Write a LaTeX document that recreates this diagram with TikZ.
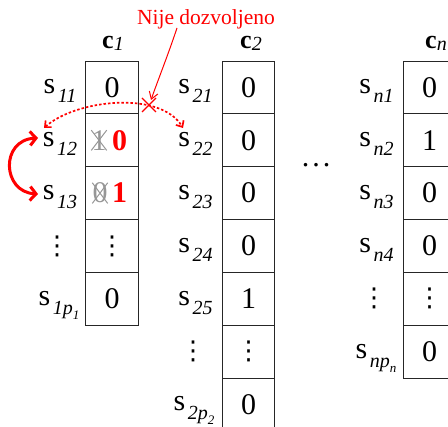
\documentclass[tikz,border=0pt]{standalone}
\usepackage{fontspec}
\setmainfont{Liberation Serif}
\newfontfamily\dvfont{DejaVu Sans}
\usetikzlibrary{arrows.meta,calc}
\newcommand\slab[1]{s\hspace{2.5pt}\raisebox{-9pt}{\fontsize{20}{20}\selectfont\itshape #1}}
\newcommand\psub[1]{\raisebox{-5pt}{\fontsize{13}{13}\selectfont #1}}
\newcommand\chead[1]{{\bfseries c}\raisebox{-2pt}{\fontsize{20}{20}\selectfont\itshape #1}}
\newcommand\vdts{{\dvfont\fontsize{26}{26}\selectfont ⋮}}
\definecolor{oldgray}{RGB}{150,150,150}
\begin{document}
\begin{tikzpicture}[x=1pt,y=-1pt,
  cell/.style={draw=black!85,line width=0.8pt,minimum width=52.5pt,minimum height=52.85pt,inner sep=0pt,font=\fontsize{30}{30}\selectfont},
  lab/.style={anchor=base,inner sep=0pt,font=\fontsize{30}{30}\selectfont},
  dts/.style={inner sep=0pt,font=\fontsize{30}{30}\selectfont},
  head/.style={anchor=base,inner sep=0pt,font=\fontsize{26}{26}\selectfont},
  oldval/.style={inner sep=0pt,text=oldgray,font=\fontsize{30}{30}\selectfont},
  newval/.style={inner sep=0pt,text=red,font=\fontsize{30}{30}\selectfont\bfseries},
  strike/.style={draw=oldgray,line width=1pt},
  note/.style={anchor=base,inner sep=0pt,text=red,font=\fontsize{21.5}{21.5}\selectfont},
  redline/.style={draw=red,line width=1pt},
  dotarrow/.style={draw=red,line width=1.7pt,dash pattern=on 2.5pt off 2pt,{Straight Barb[length=5pt,width=9pt]}-{Straight Barb[length=5pt,width=9pt]}},
  swaparrow/.style={draw=red,line width=3pt,{Straight Barb[length=6pt,width=14pt]}-{Straight Barb[length=6pt,width=14pt]}}
]
\clip (0,0) rectangle (448,427);
% headers
\node[head] (h1) at (113,49) {\chead{1}};
\node[head] (h2) at (251,49) {\chead{2}};
\node[head] (hn) at (436,49) {\chead{n}};
% column 1
\node[cell] (a1) at (112,87.4) {0};
\node[cell] (a2) at (112,140.3) {};
\node[cell] (a3) at (112,193.1) {};
\node[cell] (a4) at (112,246) {\vdts};
\node[cell] (a5) at (112,298.8) {0};
\node[lab] (l11) at (60,93.9) {\slab{11}};
\node[lab] (l12) at (60,146.8) {\slab{12}};
\node[lab] (l13) at (60,199.6) {\slab{13}};
\node[dts] (l14) at (57,246) {\vdts};
\node[lab] (l15) at (59,305.3) {\slab{1p\psub{1}}};
% changed values
\node[oldval] (o2) at (99,140.3) {1};
\draw[strike] (o2.north west) -- (o2.south east) (o2.north east) -- (o2.south west);
\node[newval] (n2) at (119.5,140.3) {0};
\node[oldval] (o3) at (100,193.1) {0};
\draw[strike] (o3.north west) -- (o3.south east) (o3.north east) -- (o3.south west);
\node[newval] (n3) at (119.5,193.1) {1};
% column 2
\node[cell] (b1) at (248.5,87.4) {0};
\node[cell] (b2) at (248.5,140.3) {0};
\node[cell] (b3) at (248.5,193.1) {0};
\node[cell] (b4) at (248.5,246) {0};
\node[cell] (b5) at (248.5,298.8) {1};
\node[cell] (b6) at (248.5,351.7) {\vdts};
\node[cell] (b7) at (248.5,404.5) {0};
\node[lab] (l21) at (195.5,93.9) {\slab{21}};
\node[lab] (l22) at (195.5,146.8) {\slab{22}};
\node[lab] (l23) at (195.5,199.6) {\slab{23}};
\node[lab] (l24) at (195.5,252.5) {\slab{24}};
\node[lab] (l25) at (195.5,305.3) {\slab{25}};
\node[dts] (l26) at (193,351.7) {\vdts};
\node[lab] (l27) at (194,411) {\slab{2p\psub{2}}};
% dots between columns
\node[dts] (hd) at (316,165) {\hbox{.\kern3pt.\kern3pt.}};
% column n
\node[cell] (c1) at (429.5,87.4) {0};
\node[cell] (c2) at (429.5,140.3) {1};
\node[cell] (c3) at (429.5,193.1) {0};
\node[cell] (c4) at (429.5,246) {0};
\node[cell] (c5) at (429.5,298.8) {\vdts};
\node[cell] (c6) at (429.5,351.7) {0};
\node[lab] (ln1) at (376.5,93.9) {\slab{n1}};
\node[lab] (ln2) at (376.5,146.8) {\slab{n2}};
\node[lab] (ln3) at (376.5,199.6) {\slab{n3}};
\node[lab] (ln4) at (376.5,252.5) {\slab{n4}};
\node[dts] (ln5) at (374,298.8) {\vdts};
\node[lab] (ln6) at (376,358.2) {\slab{np\psub{n}}};
% note
\node[note] (note) at (206,25) {Nije dozvoljeno};
\coordinate (xm) at (149,105);
\draw[redline,-{Straight Barb[length=7pt,width=9pt]}] (177,28) .. controls (168,55) and (158,80) .. (151,100);
\draw[draw=red,line width=1.4pt] ($(xm)+(-7,-7)$) -- ($(xm)+(7,7)$) ($(xm)+(7,-7)$) -- ($(xm)+(-7,7)$);
\coordinate (dl) at (44,128);
\coordinate (dr) at (183,128);
\draw[dotarrow] (dl) .. controls (75,100) and (160,90) .. (dr);
\coordinate (sl) at (38,138);
\coordinate (sr) at (38,194);
\draw[swaparrow] (sl) .. controls (0,140) and (2,192) .. (sr);
\end{tikzpicture}
\end{document}
